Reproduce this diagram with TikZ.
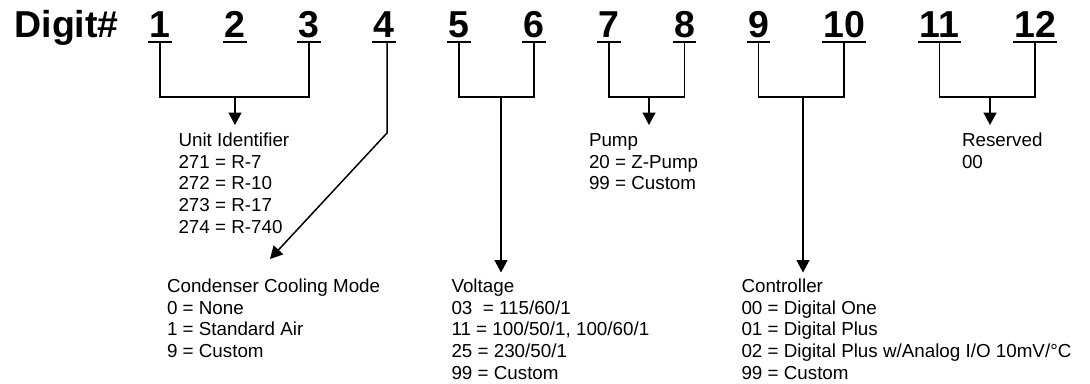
\documentclass[tikz,border=0pt]{standalone}
\usepackage{fontspec}
\setmainfont{Liberation Sans}
\usetikzlibrary{arrows.meta,calc}

\tikzset{
  digit/.style={anchor=base,inner xsep=1.5pt,inner ysep=0pt,outer sep=0pt,
    text depth=5pt,font=\fontsize{37.5}{40}\selectfont\bfseries},
  uline/.style={line width=2.5pt},
  link/.style={line width=1.5pt},
  arrow/.style={link,-{Triangle[length=12.5pt,width=13pt]}},
  info/.style={anchor=base west,inner sep=0pt,outer sep=0pt,
    font=\fontsize{18.8}{21.7}\selectfont}
}

\begin{document}
\begin{tikzpicture}[x=1pt,y=-1pt]
  \useasboundingbox (0,0) rectangle (1090,383);
  % header row
  \node[digit,anchor=base west] (title) at (13,37) {Digit\#};
  \node[digit] (d1) at (160,37) {1};
  \node[digit] (d2) at (235,37) {2};
  \node[digit] (d3) at (309,37) {3};
  \node[digit] (d4) at (384,37) {4};
  \node[digit] (d5) at (459,37) {5};
  \node[digit] (d6) at (534,37) {6};
  \node[digit] (d7) at (609,37) {7};
  \node[digit] (d8) at (684.5,37) {8};
  \node[digit] (d9) at (758.5,37) {9};
  \node[digit] (d10) at (844,37) {10};
  \node[digit] (d11) at (939.5,37) {11};
  \node[digit] (d12) at (1035,37) {12};
  \foreach \d in {1,...,12}
    \draw[uline] (d\d.south west) -- (d\d.south east);

  % code tables
  \node[info] (unit) at (178.5,146.5) {\begin{tabular}[t]{@{}l@{}}
    Unit Identifier\\ 271 = R-7\\ 272 = R-10\\ 273 = R-17\\ 274 = R-740\end{tabular}};
  \node[info] (pump) at (589,146.5) {\begin{tabular}[t]{@{}l@{}}
    Pump\\ 20 = Z-Pump\\ 99 = Custom\end{tabular}};
  \node[info] (rsvd) at (962,146.5) {\begin{tabular}[t]{@{}l@{}}
    Reserved\\ 00\end{tabular}};
  \node[info] (cond) at (167,292.5) {\begin{tabular}[t]{@{}l@{}}
    Condenser Cooling Mode\\ 0 = None\\ 1 = Standard Air\\ 9 = Custom\end{tabular}};
  \node[info] (volt) at (451.5,292.5) {\begin{tabular}[t]{@{}l@{}}
    Voltage\\ 03\ \ = 115/60/1\\ 11 = 100/50/1, 100/60/1\\ 25 = 230/50/1\\ 99 = Custom\end{tabular}};
  \node[info] (ctrl) at (741.5,292.5) {\begin{tabular}[t]{@{}l@{}}
    Controller\\ 00 = Digital One\\ 01 = Digital Plus\\
    02 = Digital Plus w/Analog I/O 10mV/°C\\ 99 = Custom\end{tabular}};

  % brackets
  \coordinate (b13) at (235,97);
  \coordinate (b56) at (501,97);
  \coordinate (b78) at (649,97);
  \coordinate (b910) at (803,97);
  \coordinate (b1112) at (990,97);
  \draw[link] (d1.south) |- (b13) -| (d3.south);
  \draw[link] (d5.south) |- (b56) -| (d6.south);
  \draw[link] (d7.south) |- (b78) -| (d8.south);
  \draw[link] (d9.south) |- (b910) -| (d10.south);
  \draw[link] (d11.south) |- (b1112) -| (d12.south);

  % arrows to the tables
  \draw[arrow] (b13) -- (b13 |- 0,125);
  \draw[arrow] (b78) -- (b78 |- 0,125);
  \draw[arrow] (b1112) -- (b1112 |- 0,125);
  \draw[arrow] (b56) -- (b56 |- 0,272.5);
  \draw[arrow] (b910) -- (b910 |- 0,272.5);
  \coordinate (k4) at (387,133);
  \coordinate (t4) at (270,259);
  \draw[arrow,line join=miter] (d4.south -| k4) -- (k4) -- (t4);
\end{tikzpicture}
\end{document}
